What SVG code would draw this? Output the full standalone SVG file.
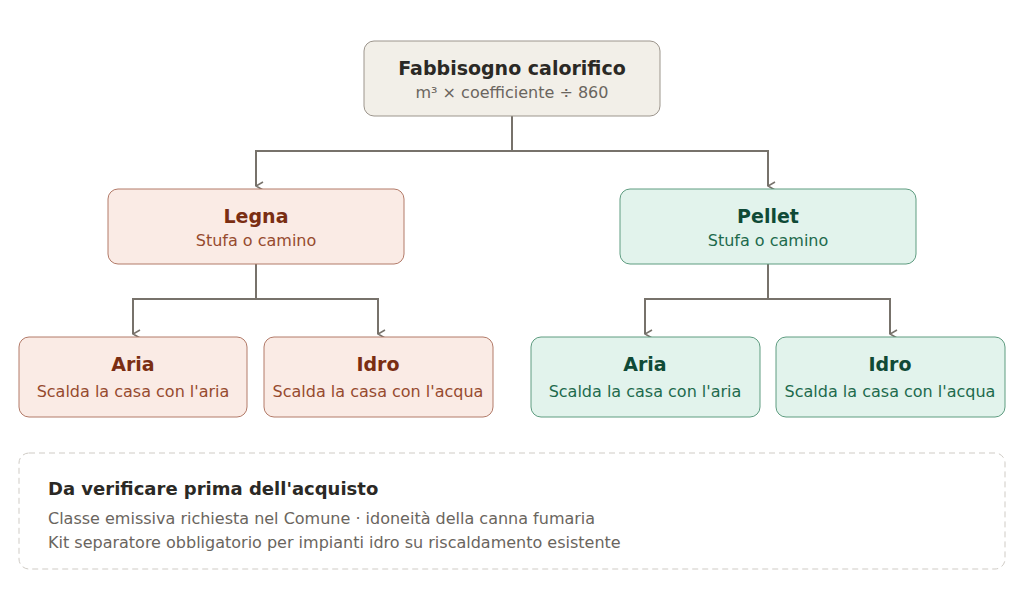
<svg xmlns="http://www.w3.org/2000/svg" width="1024" height="607" viewBox="0 0 1024 607">
<style>
text{font-family:"DejaVu Sans",sans-serif;text-anchor:middle}
.t{font-weight:bold;font-size:19px}
.s{font-size:16px}
.n rect{stroke-width:1}
.root rect{fill:#f2efe8;stroke:#9c958c}
.root .t{fill:#2b2925}.root .s{fill:#6a655e}
.warm rect{fill:#faebe5;stroke:#b27a68}
.warm .t{fill:#7a2e12}.warm .s{fill:#964a2e}
.cool rect{fill:#e2f3ec;stroke:#5e9c80}
.cool .t{fill:#0f4a36}.cool .s{fill:#1d6a4c}
.c path{fill:none;stroke:#77726b;stroke-width:2}
</style>
<defs><marker id="a" viewBox="0 0 10 10" refX="5" refY="9" markerWidth="10" markerHeight="10" markerUnits="userSpaceOnUse" orient="auto-start-reverse"><path d="M1,2 L5,9 L9,2" fill="none" stroke="#77726b" stroke-width="1.6"/></marker></defs>
<rect width="1024" height="607" fill="#fff"/>
<g class="c">
<path d="M512,116 V151 H256 V186" marker-end="url(#a)"/>
<path d="M512,151 H768 V186" marker-end="url(#a)"/>
<path d="M256,264 V299 H133 V334" marker-end="url(#a)"/>
<path d="M256,299 H378 V334" marker-end="url(#a)"/>
<path d="M768,264 V299 H645 V334" marker-end="url(#a)"/>
<path d="M768,299 H890 V334" marker-end="url(#a)"/>
</g>
<g id="root" class="n root"><rect x="364" y="41" width="296" height="75" rx="10"/><text class="t" x="512" y="75">Fabbisogno calorifico</text><text class="s" x="512" y="98">m³ × coefficiente ÷ 860</text></g>
<g id="legna" class="n warm"><rect x="108" y="189" width="296" height="75" rx="10"/><text class="t" x="256" y="223">Legna</text><text class="s" x="256" y="246">Stufa o camino</text></g>
<g id="pellet" class="n cool"><rect x="620" y="189" width="296" height="75" rx="10"/><text class="t" x="768" y="223">Pellet</text><text class="s" x="768" y="246">Stufa o camino</text></g>
<g id="legna-aria" class="n warm"><rect x="19" y="337" width="228" height="80" rx="10"/><text class="t" x="133" y="371">Aria</text><text class="s" x="133" y="397">Scalda la casa con l'aria</text></g>
<g id="legna-idro" class="n warm"><rect x="264" y="337" width="229" height="80" rx="10"/><text class="t" x="378" y="371">Idro</text><text class="s" x="378" y="397">Scalda la casa con l'acqua</text></g>
<g id="pellet-aria" class="n cool"><rect x="531" y="337" width="229" height="80" rx="10"/><text class="t" x="645" y="371">Aria</text><text class="s" x="645" y="397">Scalda la casa con l'aria</text></g>
<g id="pellet-idro" class="n cool"><rect x="776" y="337" width="229" height="80" rx="10"/><text class="t" x="890" y="371">Idro</text><text class="s" x="890" y="397">Scalda la casa con l'acqua</text></g>
<g id="note"><rect x="19" y="453" width="986" height="116" rx="10" fill="#fff" stroke="#cfcbc5" stroke-dasharray="6 4"/>
<text x="48" y="495" style="text-anchor:start;font-weight:bold;font-size:18px" fill="#2b2925">Da verificare prima dell'acquisto</text>
<text x="48" y="524" style="text-anchor:start;font-size:16px" fill="#6a655e">Classe emissiva richiesta nel Comune · idoneità della canna fumaria</text>
<text x="48" y="548" style="text-anchor:start;font-size:16px" fill="#6a655e">Kit separatore obbligatorio per impianti idro su riscaldamento esistente</text></g>
</svg>
